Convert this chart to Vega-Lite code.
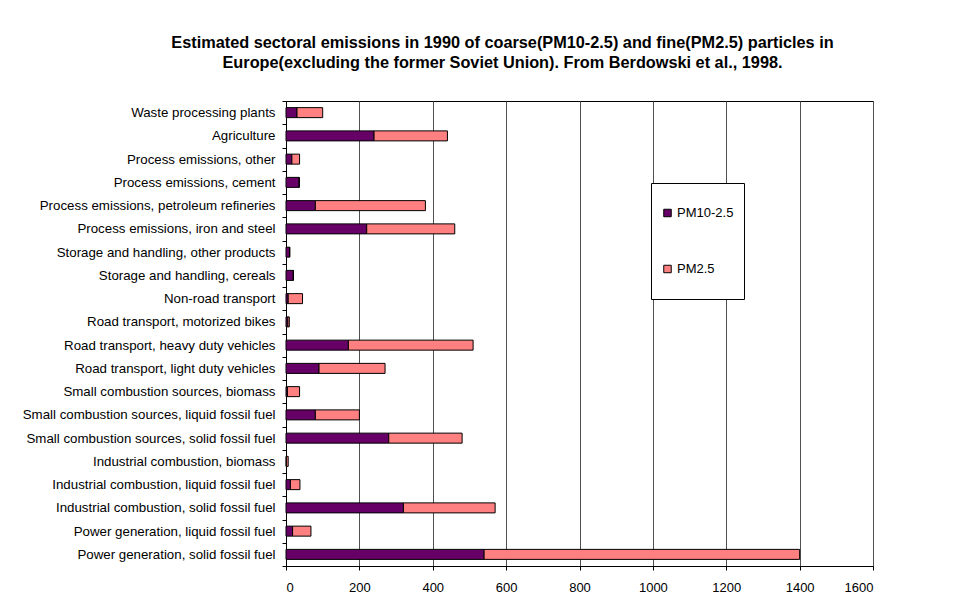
{
  "$schema": "https://vega.github.io/schema/vega-lite/v6.json",
  "width": 587,
  "height": 465,
  "autosize": {"type": "none"},
  "padding": {"left": 286, "top": 101, "right": 94, "bottom": 35},
  "background": "white",
  "title": {
    "text": ["Estimated sectoral emissions in 1990 of coarse(PM10-2.5) and fine(PM2.5) particles in", "Europe(excluding the former Soviet Union). From Berdowski et al., 1998."],
    "font": "Liberation Sans",
    "fontSize": 16.3,
    "fontWeight": "bold",
    "color": "black",
    "anchor": "middle",
    "frame": "group",
    "dx": -77,
    "offset": 23,
    "lineHeight": 20
  },
  "data": {
    "values": [
      {"sector": "Waste processing plants", "rank": 1, "fraction": "PM10-2.5", "value": 30},
      {"sector": "Waste processing plants", "rank": 1, "fraction": "PM2.5", "value": 70},
      {"sector": "Agriculture", "rank": 2, "fraction": "PM10-2.5", "value": 240},
      {"sector": "Agriculture", "rank": 2, "fraction": "PM2.5", "value": 200},
      {"sector": "Process emissions, other", "rank": 3, "fraction": "PM10-2.5", "value": 16},
      {"sector": "Process emissions, other", "rank": 3, "fraction": "PM2.5", "value": 21},
      {"sector": "Process emissions, cement", "rank": 4, "fraction": "PM10-2.5", "value": 36},
      {"sector": "Process emissions, cement", "rank": 4, "fraction": "PM2.5", "value": 0},
      {"sector": "Process emissions, petroleum refineries", "rank": 5, "fraction": "PM10-2.5", "value": 80},
      {"sector": "Process emissions, petroleum refineries", "rank": 5, "fraction": "PM2.5", "value": 300},
      {"sector": "Process emissions, iron and steel", "rank": 6, "fraction": "PM10-2.5", "value": 220},
      {"sector": "Process emissions, iron and steel", "rank": 6, "fraction": "PM2.5", "value": 240},
      {"sector": "Storage and handling, other products", "rank": 7, "fraction": "PM10-2.5", "value": 10},
      {"sector": "Storage and handling, other products", "rank": 7, "fraction": "PM2.5", "value": 0},
      {"sector": "Storage and handling, cereals", "rank": 8, "fraction": "PM10-2.5", "value": 20},
      {"sector": "Storage and handling, cereals", "rank": 8, "fraction": "PM2.5", "value": 0},
      {"sector": "Non-road transport", "rank": 9, "fraction": "PM10-2.5", "value": 6},
      {"sector": "Non-road transport", "rank": 9, "fraction": "PM2.5", "value": 39},
      {"sector": "Road transport, motorized bikes", "rank": 10, "fraction": "PM10-2.5", "value": 5},
      {"sector": "Road transport, motorized bikes", "rank": 10, "fraction": "PM2.5", "value": 4},
      {"sector": "Road transport, heavy duty vehicles", "rank": 11, "fraction": "PM10-2.5", "value": 170},
      {"sector": "Road transport, heavy duty vehicles", "rank": 11, "fraction": "PM2.5", "value": 340},
      {"sector": "Road transport, light duty vehicles", "rank": 12, "fraction": "PM10-2.5", "value": 90},
      {"sector": "Road transport, light duty vehicles", "rank": 12, "fraction": "PM2.5", "value": 180},
      {"sector": "Small combustion sources, biomass", "rank": 13, "fraction": "PM10-2.5", "value": 4},
      {"sector": "Small combustion sources, biomass", "rank": 13, "fraction": "PM2.5", "value": 33},
      {"sector": "Small combustion sources, liquid fossil fuel", "rank": 14, "fraction": "PM10-2.5", "value": 80},
      {"sector": "Small combustion sources, liquid fossil fuel", "rank": 14, "fraction": "PM2.5", "value": 120},
      {"sector": "Small combustion sources, solid fossil fuel", "rank": 15, "fraction": "PM10-2.5", "value": 280},
      {"sector": "Small combustion sources, solid fossil fuel", "rank": 15, "fraction": "PM2.5", "value": 200},
      {"sector": "Industrial combustion, biomass", "rank": 16, "fraction": "PM10-2.5", "value": 1},
      {"sector": "Industrial combustion, biomass", "rank": 16, "fraction": "PM2.5", "value": 5},
      {"sector": "Industrial combustion, liquid fossil fuel", "rank": 17, "fraction": "PM10-2.5", "value": 12},
      {"sector": "Industrial combustion, liquid fossil fuel", "rank": 17, "fraction": "PM2.5", "value": 26},
      {"sector": "Industrial combustion, solid fossil fuel", "rank": 18, "fraction": "PM10-2.5", "value": 320},
      {"sector": "Industrial combustion, solid fossil fuel", "rank": 18, "fraction": "PM2.5", "value": 250},
      {"sector": "Power generation, liquid fossil fuel", "rank": 19, "fraction": "PM10-2.5", "value": 18},
      {"sector": "Power generation, liquid fossil fuel", "rank": 19, "fraction": "PM2.5", "value": 50},
      {"sector": "Power generation, solid fossil fuel", "rank": 20, "fraction": "PM10-2.5", "value": 540},
      {"sector": "Power generation, solid fossil fuel", "rank": 20, "fraction": "PM2.5", "value": 860}
    ]
  },
  "mark": {"type": "bar", "size": 10, "stroke": "black", "strokeWidth": 1},
  "encoding": {
    "y": {
      "field": "sector",
      "type": "nominal",
      "sort": {"field": "rank", "order": "ascending"},
      "scale": {"paddingInner": 0, "paddingOuter": 0},
      "axis": {
        "title": null,
        "tickBand": "extent",
        "tickSize": 4,
        "tickColor": "black",
        "domainColor": "black",
        "labelPadding": 7,
        "labelFont": "Liberation Sans",
        "labelFontSize": 13.3,
        "labelColor": "black",
        "labelLimit": 400,
        "grid": false
      }
    },
    "x": {
      "field": "value",
      "type": "quantitative",
      "stack": "zero",
      "scale": {"domain": [0, 1600], "nice": false},
      "axis": {
        "title": null,
        "values": [0, 200, 400, 600, 800, 1000, 1200, 1400, 1600],
        "format": "d",
        "tickSize": 4,
        "tickColor": "black",
        "domainColor": "black",
        "labelPadding": 11,
        "labelFont": "Liberation Sans",
        "labelFontSize": 13,
        "labelColor": "black",
        "grid": true,
        "gridColor": "#505050",
        "gridOpacity": 1
      }
    },
    "order": {"field": "fraction", "sort": "ascending"},
    "color": {
      "field": "fraction",
      "type": "nominal",
      "scale": {"domain": ["PM10-2.5", "PM2.5"], "range": ["#660066", "#FF8080"]},
      "legend": {
        "title": null,
        "orient": "none",
        "legendX": 365,
        "legendY": 82,
        "direction": "vertical",
        "strokeColor": "black",
        "fillColor": "white",
        "padding": 10,
        "clipHeight": 40,
        "rowPadding": 16,
        "symbolType": "square",
        "symbolSize": 56,
        "symbolStrokeColor": "black",
        "symbolStrokeWidth": 1,
        "symbolOpacity": 1,
        "labelOffset": 3,
        "labelFont": "Liberation Sans",
        "labelFontSize": 13,
        "labelColor": "black"
      }
    }
  },
  "config": {
    "view": {"stroke": "black", "strokeWidth": 1}
  }
}
